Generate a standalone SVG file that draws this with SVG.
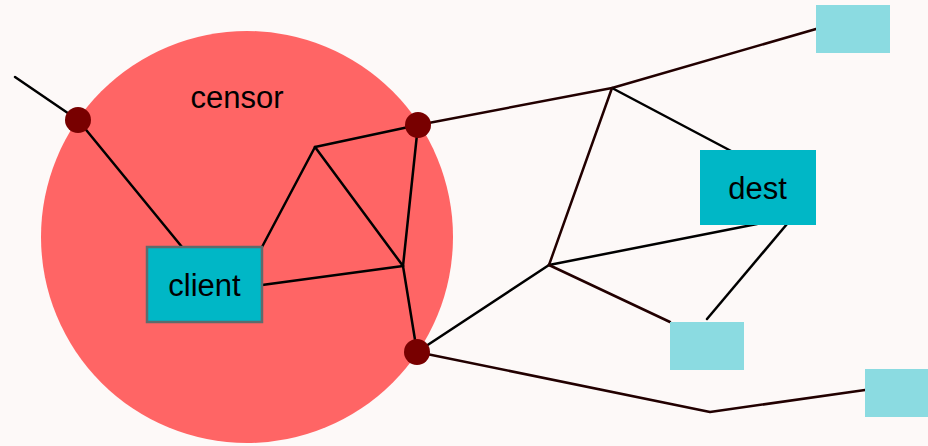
<svg xmlns="http://www.w3.org/2000/svg" width="928" height="446" viewBox="0 0 928 446">
  <style>
    .lbl { font-family: "Liberation Sans", Arial, sans-serif; font-size: 31px; fill: #000; text-anchor: middle; }
    .edge { fill: none; stroke: #000; stroke-width: 2.5; stroke-linejoin: round; stroke-linecap: round; }
    .far { stroke: #220000; }
    .node { fill: #00b7c6; }
    .host { fill: #8bdbe1; }
    .gw { fill: #780000; }
  </style>
  <rect width="928" height="446" fill="#fdf9f8"/>

  <!-- censor region -->
  <g id="censor">
    <circle cx="247" cy="237" r="206" fill="#ff6565"/>
    <text class="lbl" x="237" y="108">censor</text>
  </g>

  <!-- connectors -->
  <g id="connectors">
    <polyline class="edge" points="15,77 78,120 182,247"/>
    <line class="edge" x1="262" y1="247" x2="315" y2="147"/>
    <line class="edge" x1="315" y1="147" x2="418" y2="125"/>
    <polyline class="edge far" points="418,125 612,88 816,29"/>
    <line class="edge" x1="315" y1="147" x2="403" y2="266" stroke-width="3.2"/>
    <line class="edge" x1="262" y1="285" x2="403" y2="266"/>
    <line class="edge" x1="403" y1="266" x2="418" y2="125"/>
    <line class="edge" x1="403" y1="266" x2="417" y2="352"/>
    <line class="edge" x1="417" y1="352" x2="549" y2="265"/>
    <polyline class="edge far" points="417,352 710,412 865,390"/>
    <line class="edge" x1="612" y1="88" x2="733" y2="152"/>
    <line class="edge far" x1="612" y1="88" x2="549" y2="265"/>
    <line class="edge" x1="549" y1="265" x2="757" y2="224"/>
    <line class="edge far" x1="549" y1="265" x2="670" y2="322"/>
    <line class="edge" x1="787" y1="224" x2="707" y2="319"/>
  </g>

  <!-- border gateways -->
  <g id="gw-west"><circle class="gw" cx="78" cy="120" r="13"/></g>
  <g id="gw-north"><circle class="gw" cx="418" cy="125" r="13"/></g>
  <g id="gw-south"><circle class="gw" cx="417" cy="352" r="13"/></g>

  <g id="client">
    <rect class="node" x="147" y="247" width="115" height="75" stroke="#5f6b6c" stroke-width="2.5"/>
    <text class="lbl" x="204.5" y="296">client</text>
  </g>

  <g id="dest">
    <rect class="node" x="700" y="150" width="116" height="75"/>
    <text class="lbl" x="757.5" y="199">dest</text>
  </g>

  <g id="host-ne"><rect class="host" x="816" y="5" width="74" height="48"/></g>
  <g id="host-mid"><rect class="host" x="670" y="322" width="74" height="48"/></g>
  <g id="host-se"><rect class="host" x="865" y="369" width="63" height="48"/></g>
</svg>
